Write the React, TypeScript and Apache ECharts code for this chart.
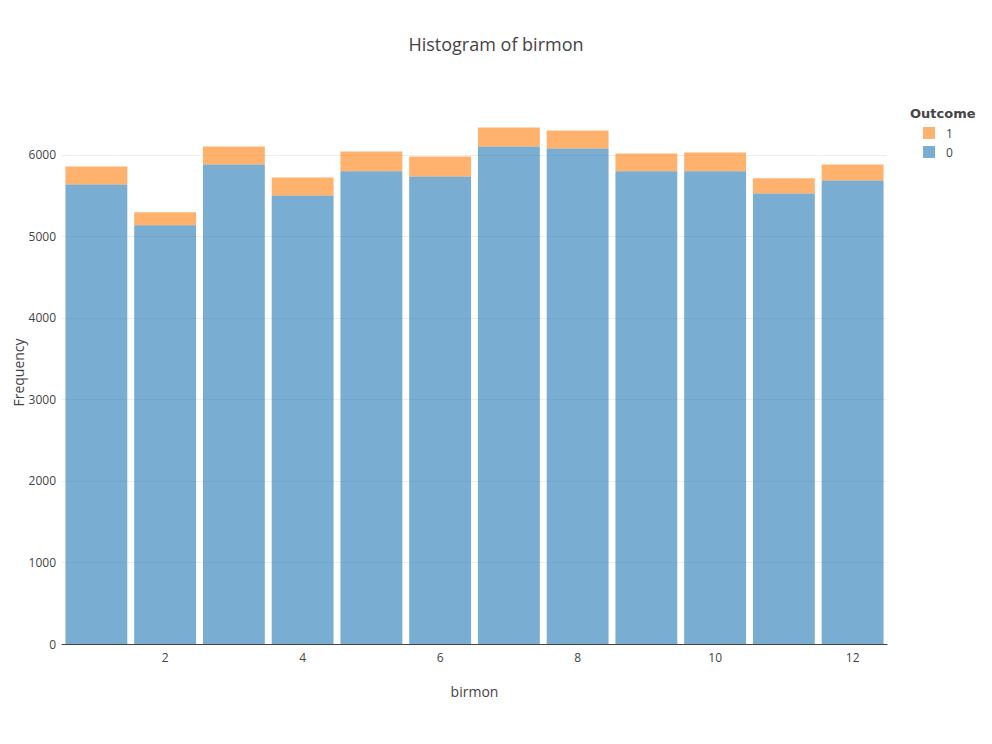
import React, { useEffect, useRef } from 'react';
import * as echarts from 'echarts';

const months = ['1', '2', '3', '4', '5', '6', '7', '8', '9', '10', '11', '12'];
const outcome0 = [5637, 5135, 5882, 5502, 5797, 5735, 6103, 6078, 5797, 5797, 5527, 5686];
const outcome1 = [221, 159, 221, 221, 245, 245, 233, 221, 220, 232, 184, 196];
const yTicks = [0, 1000, 2000, 3000, 4000, 5000, 6000];

const FONT = '"Open Sans", verdana, arial, sans-serif';

const App = () => {
  const chartRef = useRef<HTMLDivElement>(null);

  useEffect(() => {
    let chart: echarts.ECharts | null = null;
    if (chartRef.current) {
      chart = echarts.init(chartRef.current, undefined, { renderer: 'svg' });
      const option: echarts.EChartsOption = {
        animation: false,
        textStyle: { fontFamily: FONT },
        title: [
          {
            text: 'Histogram of birmon',
            left: 'center',
            top: 30,
            textStyle: { fontFamily: FONT, fontSize: 18, fontWeight: 'normal', color: '#444' },
          },
          {
            text: 'Outcome',
            left: 905,
            top: 102,
            textStyle: { fontFamily: '"DejaVu Sans", verdana, sans-serif', fontSize: 13, fontWeight: 'bold', color: '#444' },
          },
        ],
        legend: {
          data: ['1', '0'],
          orient: 'vertical',
          left: 918,
          top: 122,
          icon: 'rect',
          itemWidth: 12,
          itemHeight: 12,
          itemGap: 7,
          textStyle: { fontFamily: FONT, fontSize: 12, color: '#444', padding: [0, 0, 0, 6] },
        },
        grid: { left: 62, right: 105, top: 101, bottom: 100, outerBoundsMode: 'none' } as any,
        xAxis: {
          type: 'category',
          data: months,
          name: 'birmon',
          nameLocation: 'middle',
          nameGap: 40,
          nameMoveOverlap: false,
          nameTextStyle: { fontFamily: FONT, fontSize: 14, color: '#444' },
          axisLine: { lineStyle: { color: '#444', width: 1 } },
          axisTick: { show: false },
          axisLabel: {
            interval: (index: number) => index % 2 === 1,
            margin: 7,
            fontFamily: FONT,
            fontSize: 12,
            color: '#444',
          },
        } as any,
        yAxis: {
          type: 'value',
          min: yTicks[0],
          max: 6660,
          interval: yTicks[1] - yTicks[0],
          name: 'Frequency',
          nameLocation: 'middle',
          nameRotate: 90,
          nameGap: 37,
          nameMoveOverlap: false,
          nameTextStyle: { fontFamily: FONT, fontSize: 14, color: '#444' },
          axisLine: { show: false },
          axisTick: { show: false },
          axisLabel: {
            showMaxLabel: false,
            margin: 6,
            fontFamily: FONT,
            fontSize: 12,
            color: '#444',
            formatter: (v: number) => String(v),
          },
          splitLine: { showMaxLine: false, lineStyle: { color: '#eee', width: 1 } },
        } as any,
        series: [
          {
            name: '0',
            type: 'bar',
            stack: 'total',
            data: outcome0,
            barCategoryGap: '10%',
            itemStyle: { color: '#1f77b4', opacity: 0.6 },
          },
          {
            name: '1',
            type: 'bar',
            stack: 'total',
            data: outcome1,
            barCategoryGap: '10%',
            itemStyle: { color: '#ff7f0e', opacity: 0.6 },
          },
        ],
      };
      chart.setOption(option);
    }
    return () => {
      chart?.dispose();
    };
  }, []);

  return (
    <div
      ref={chartRef}
      style={{ position: 'absolute', left: 0, top: 0, width: '992px', height: '744px', background: '#fff' }}
    />
  );
};

export default App;
